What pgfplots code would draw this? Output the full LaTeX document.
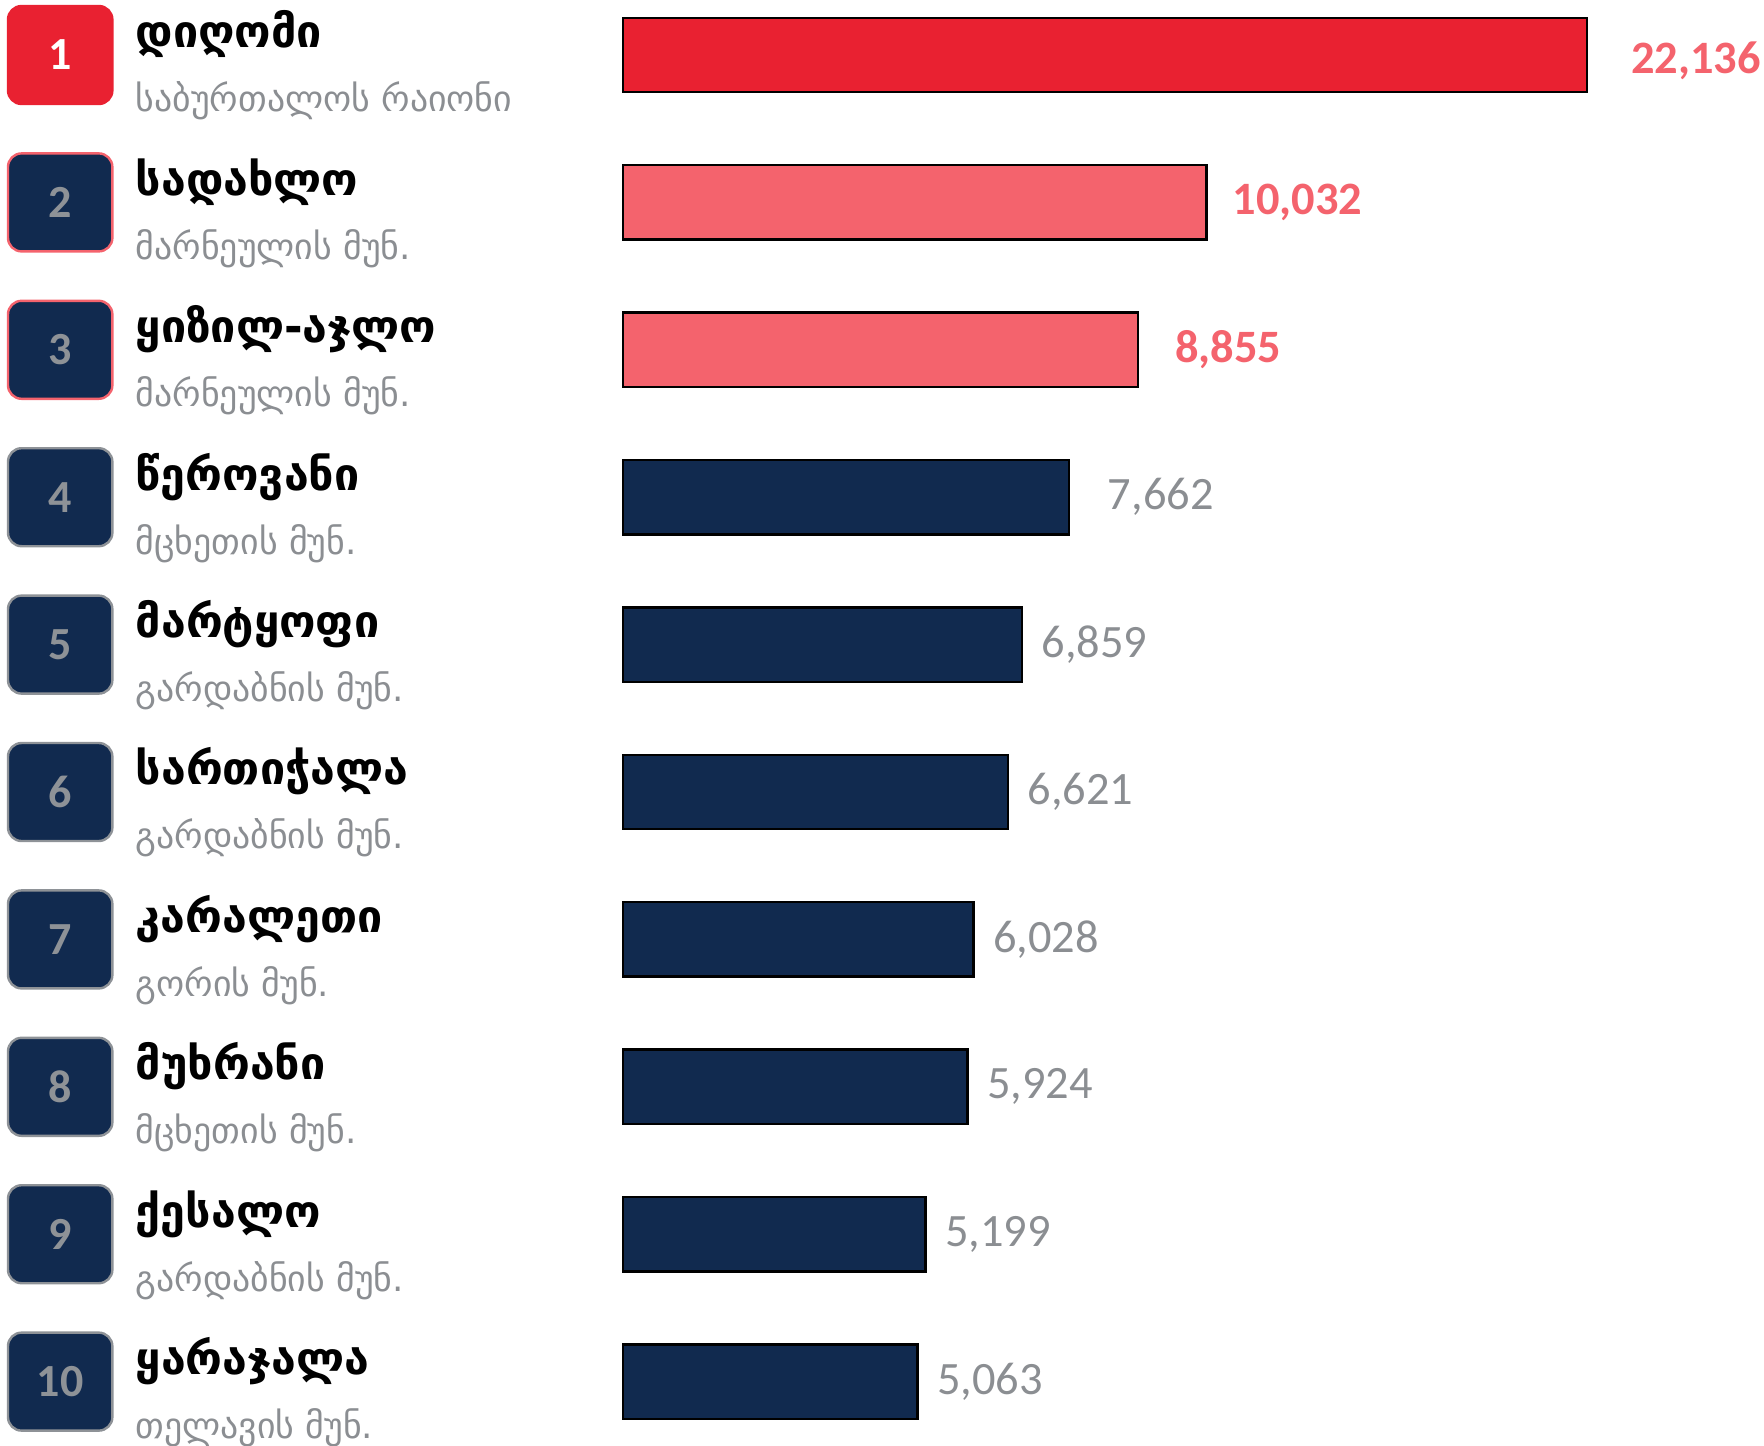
\documentclass[border=0pt]{standalone}
\usepackage{fontspec}
\setmainfont{Carlito}
\newfontfamily\geo{DejaVu Sans}
\newfontfamily\badgefont{Carlito Bold}
\usepackage{pgfplots}
\pgfplotsset{compat=1.18}
\definecolor{cred}{HTML}{E92131}
\definecolor{cpink}{HTML}{F4636D}
\definecolor{cnavy}{HTML}{112A4F}
\definecolor{cgray}{HTML}{8B8E92}
\definecolor{cbgray}{HTML}{8E9297}
\tikzset{
  badge/.style={rounded corners=3.4pt, line width=0.6pt, minimum width=26.1pt, minimum height=24.5pt, inner sep=0pt,
    font=\bfseries\fontsize{11.5}{13}\selectfont},
  nm/.style={anchor=base west, inner sep=0pt, font=\geo\bfseries\fontsize{11.2}{13}\selectfont, text=black},
  sb/.style={anchor=base west, inner sep=0pt, font=\geo\fontsize{8.95}{10}\selectfont, text=cgray},
}
\begin{document}
\begin{tikzpicture}
\begin{axis}[
  xbar, bar shift=0pt, bar width=18.6pt,
  scale only axis, width=241pt, height=368.5pt,
  xmin=0, xmax=16570, ymin=0.5, ymax=10.5, y dir=reverse,
  hide axis, clip=false,
  /pgf/number format/assume math mode=true,
  nodes near coords={\pgfmathprintnumber[fixed,precision=0,1000 sep={,}]{\pgfplotspointmeta}},
  point meta=rawx,
]
\addplot[fill=cred, draw=black, line width=0.6pt, bar shift=0pt,
  x filter/.expression={min(x,16570)},
  every node near coord/.style={anchor=west, inner sep=0pt, xshift=10.7pt, yshift=-1.5pt, text=cpink, font=\bfseries\fontsize{11.6}{13}\selectfont}]
  coordinates {(22136,1)};
\addplot[fill=cpink, draw=black, line width=0.6pt, bar shift=0pt,
  every node near coord/.style={anchor=west, inner sep=0pt, xshift=6.2pt, text=cpink, font=\bfseries\fontsize{11.6}{13}\selectfont}]
  coordinates {(10032,2)};
\addplot[fill=cpink, draw=black, line width=0.6pt, bar shift=0pt,
  every node near coord/.style={anchor=west, inner sep=0pt, xshift=9pt, text=cpink, font=\bfseries\fontsize{11.6}{13}\selectfont}]
  coordinates {(8855,3)};
\addplot[fill=cnavy, draw=black, line width=0.6pt, bar shift=0pt,
  every node near coord/.style={anchor=west, inner sep=0pt, xshift=9.5pt, text=cgray, font=\fontsize{11.6}{13}\selectfont}]
  coordinates {(7662,4)};
\addplot[fill=cnavy, draw=black, line width=0.6pt, bar shift=0pt,
  every node near coord/.style={anchor=west, inner sep=0pt, xshift=4.6pt, text=cgray, font=\fontsize{11.6}{13}\selectfont}]
  coordinates {(6859,5) (6621,6) (6028,7) (5924,8) (5199,9) (5063,10)};

% badges
\node[badge, fill=cred, draw=cred, text=white] at ([xshift=-140.7pt]axis cs:0,1) {1};
\node[badge, fill=cnavy, draw=cpink, text=cbgray] at ([xshift=-140.7pt]axis cs:0,2) {2};
\node[badge, fill=cnavy, draw=cpink, text=cbgray] at ([xshift=-140.7pt]axis cs:0,3) {3};
\node[badge, fill=cnavy, draw=cbgray, text=cbgray] at ([xshift=-140.7pt]axis cs:0,4) {4};
\node[badge, fill=cnavy, draw=cbgray, text=cbgray] at ([xshift=-140.7pt]axis cs:0,5) {5};
\node[badge, fill=cnavy, draw=cbgray, text=cbgray] at ([xshift=-140.7pt]axis cs:0,6) {6};
\node[badge, fill=cnavy, draw=cbgray, text=cbgray] at ([xshift=-140.7pt]axis cs:0,7) {7};
\node[badge, fill=cnavy, draw=cbgray, text=cbgray] at ([xshift=-140.7pt]axis cs:0,8) {8};
\node[badge, fill=cnavy, draw=cbgray, text=cbgray] at ([xshift=-140.7pt]axis cs:0,9) {9};
\node[badge, fill=cnavy, draw=cbgray, text=cbgray] at ([xshift=-140.7pt]axis cs:0,10) {10};

% names
\node[nm] at ([xshift=-122pt, yshift=1.8pt]axis cs:0,1) {დიღომი};
\node[nm] at ([xshift=-122pt, yshift=1.8pt]axis cs:0,2) {სადახლო};
\node[nm] at ([xshift=-122pt, yshift=1.8pt]axis cs:0,3) {ყიზილ-აჯლო};
\node[nm] at ([xshift=-122pt, yshift=1.8pt]axis cs:0,4) {წეროვანი};
\node[nm] at ([xshift=-122pt, yshift=1.8pt]axis cs:0,5) {მარტყოფი};
\node[nm] at ([xshift=-122pt, yshift=1.8pt]axis cs:0,6) {სართიჭალა};
\node[nm] at ([xshift=-122pt, yshift=1.8pt]axis cs:0,7) {კარალეთი};
\node[nm] at ([xshift=-122pt, yshift=1.8pt]axis cs:0,8) {მუხრანი};
\node[nm] at ([xshift=-122pt, yshift=1.8pt]axis cs:0,9) {ქესალო};
\node[nm] at ([xshift=-122pt, yshift=1.8pt]axis cs:0,10) {ყარაჯალა};

% sublabels
\node[sb] at ([xshift=-122pt, yshift=-14.2pt]axis cs:0,1) {საბურთალოს რაიონი};
\node[sb] at ([xshift=-122pt, yshift=-14.2pt]axis cs:0,2) {მარნეულის მუნ.};
\node[sb] at ([xshift=-122pt, yshift=-14.2pt]axis cs:0,3) {მარნეულის მუნ.};
\node[sb] at ([xshift=-122pt, yshift=-14.2pt]axis cs:0,4) {მცხეთის მუნ.};
\node[sb] at ([xshift=-122pt, yshift=-14.2pt]axis cs:0,5) {გარდაბნის მუნ.};
\node[sb] at ([xshift=-122pt, yshift=-14.2pt]axis cs:0,6) {გარდაბნის მუნ.};
\node[sb] at ([xshift=-122pt, yshift=-14.2pt]axis cs:0,7) {გორის მუნ.};
\node[sb] at ([xshift=-122pt, yshift=-14.2pt]axis cs:0,8) {მცხეთის მუნ.};
\node[sb] at ([xshift=-122pt, yshift=-14.2pt]axis cs:0,9) {გარდაბნის მუნ.};
\node[sb] at ([xshift=-122pt, yshift=-14.2pt]axis cs:0,10) {თელავის მუნ.};

\coordinate (r1) at (axis cs:0,1);
\coordinate (r10) at (axis cs:0,10);
\end{axis}
\pgfresetboundingbox
\path ([xshift=-155.75pt, yshift=13.75pt]r1) rectangle ([xshift=285.25pt, yshift=-15.85pt]r10);
\end{tikzpicture}
\end{document}
